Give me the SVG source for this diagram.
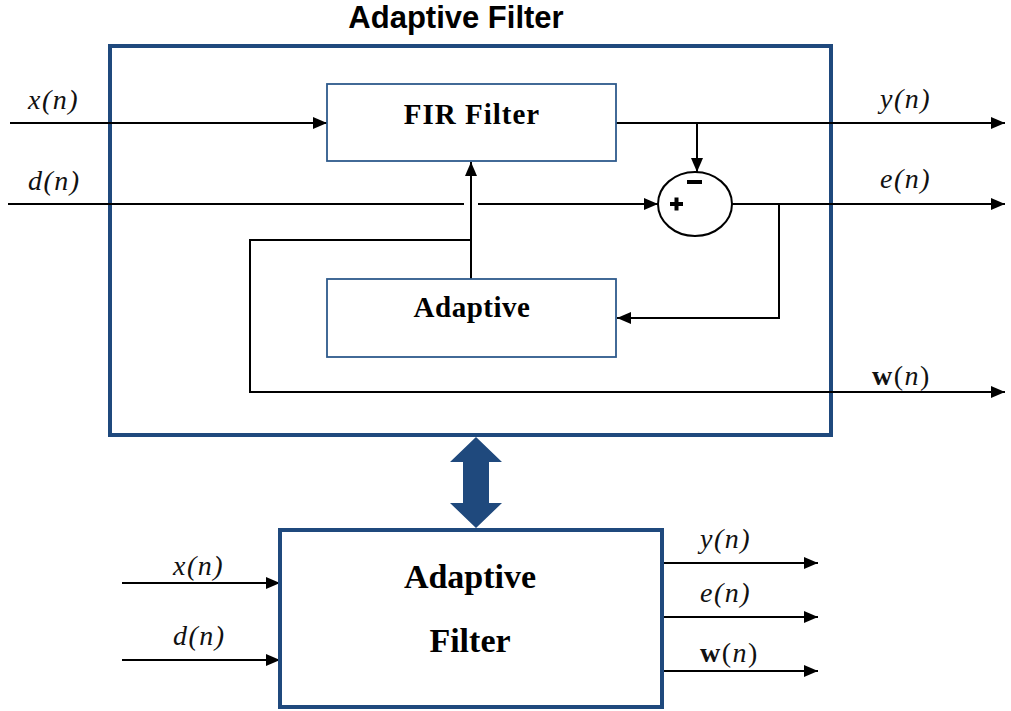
<svg xmlns="http://www.w3.org/2000/svg" width="1011" height="711" viewBox="0 0 1011 711">
  <defs>
    <marker id="arrow" markerUnits="userSpaceOnUse" markerWidth="15" markerHeight="14" refX="14" refY="7" orient="auto">
      <path d="M0,1 L14,7 L0,13 z" fill="#000"/>
    </marker>
    <style>
      .frame { fill: none; stroke: #1F497D; stroke-width: 4; }
      .box { fill: #fff; stroke: #2E5A8C; stroke-width: 1.8; }
      .wire { fill: none; stroke: #000; stroke-width: 2; }
      .arrow { marker-end: url(#arrow); }
      .title { font-family: "Liberation Sans", Arial, sans-serif; font-weight: bold; font-size: 31px; fill: #000; }
      .boxtext { font-family: "Liberation Serif", "Times New Roman", serif; font-weight: bold; fill: #000; }
      .sig { font-family: "Liberation Serif", "Times New Roman", serif; font-style: italic; font-size: 28px; letter-spacing: 1.5px; fill: #111; }
      .sign { font-family: "Liberation Sans", Arial, sans-serif; font-weight: bold; fill: #000; }
    </style>
  </defs>
  <rect width="1011" height="711" fill="#fff"/>

  <!-- enclosing adaptive filter frame -->
  <g id="frame">
    <rect class="frame" x="110" y="46" width="721" height="389"/>
    <text class="title" x="456" y="28" text-anchor="middle">Adaptive Filter</text>
  </g>

  <!-- signal wires -->
  <g id="connectors">
    <path class="wire arrow" d="M10,123 H327"/>
    <path class="wire" d="M8,204 H464"/>
    <path class="wire arrow" d="M478,204 H658"/>
    <path class="wire arrow" d="M616,123 H1005"/>
    <path class="wire arrow" d="M697,123 V172"/>
    <path class="wire arrow" d="M732,204 H1005"/>
    <path class="wire arrow" d="M779,204 V318 H617"/>
    <path class="wire arrow" d="M471,279 V162"/>
    <path class="wire arrow" d="M471,240 H250 V392 H1005"/>

    <path class="wire arrow" d="M122,583 H280"/>
    <path class="wire arrow" d="M122,660 H280"/>
    <path class="wire arrow" d="M662,563 H818"/>
    <path class="wire arrow" d="M662,617 H818"/>
    <path class="wire arrow" d="M662,671 H818"/>
  </g>

  <g id="fir">
    <rect class="box" x="327" y="84" width="289" height="77"/>
    <text class="boxtext" x="472" y="124" font-size="29" text-anchor="middle" letter-spacing="1">FIR Filter</text>
  </g>

  <g id="adaptive">
    <rect class="box" x="327" y="279" width="289" height="78"/>
    <text class="boxtext" x="472" y="317" font-size="29" text-anchor="middle" letter-spacing="0.5">Adaptive</text>
  </g>

  <g id="sum">
    <ellipse cx="695" cy="204" rx="37" ry="32" fill="#fff" stroke="#000" stroke-width="2"/>
    <rect x="687" y="180" width="15" height="4" fill="#000"/>
    <rect x="670" y="202" width="13" height="4" fill="#000"/>
    <rect x="674.5" y="197.5" width="4" height="13" fill="#000"/>
  </g>

  <!-- two-way link between detailed and compact views -->
  <g id="link">
    <polygon points="476,437 502,462 489,462 489,503 502,503 476,528 450,503 463,503 463,462 450,462" fill="#1F497D"/>
  </g>

  <g id="block">
    <rect class="frame" x="280" y="530" width="382" height="177"/>
    <text class="boxtext" x="470" y="588" font-size="34" text-anchor="middle">Adaptive</text>
    <text class="boxtext" x="470" y="652" font-size="34" text-anchor="middle">Filter</text>
  </g>

  <!-- signal labels -->
  <g id="labels">
    <text class="sig" x="28" y="109">x(n)</text>
    <text class="sig" x="28" y="190">d(n)</text>
    <text class="sig" x="880" y="108">y(n)</text>
    <text class="sig" x="880" y="188">e(n)</text>
    <text class="sig" x="872" y="385"><tspan font-style="normal" font-weight="bold">w</tspan><tspan font-style="normal">(</tspan>n<tspan font-style="normal">)</tspan></text>

    <text class="sig" x="173" y="575">x(n)</text>
    <text class="sig" x="173" y="645">d(n)</text>
    <text class="sig" x="700" y="548">y(n)</text>
    <text class="sig" x="700" y="602">e(n)</text>
    <text class="sig" x="700" y="662"><tspan font-style="normal" font-weight="bold">w</tspan><tspan font-style="normal">(</tspan>n<tspan font-style="normal">)</tspan></text>
  </g>
</svg>
